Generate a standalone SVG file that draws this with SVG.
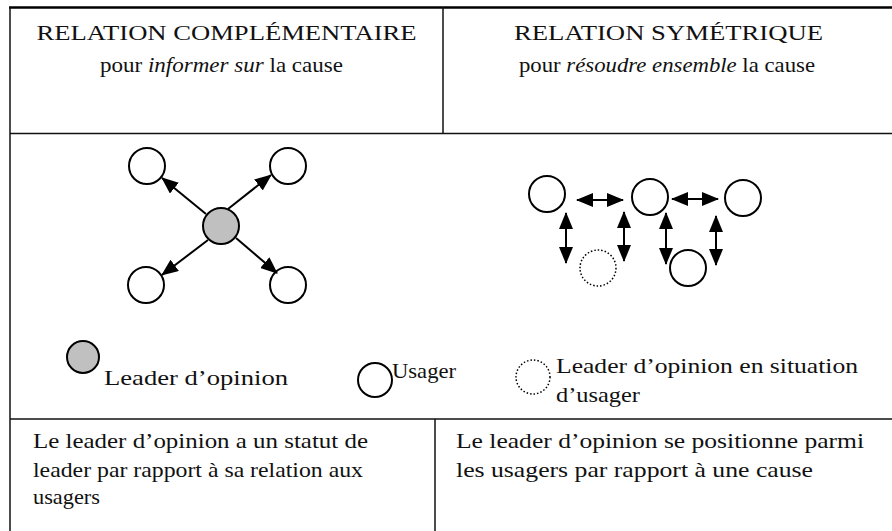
<svg xmlns="http://www.w3.org/2000/svg" width="892" height="531" viewBox="0 0 892 531" font-family="'Liberation Serif', 'DejaVu Serif', serif">
  <style>
    text { font-family: "Liberation Serif", "DejaVu Serif", serif; fill: #111; }
    .hd { font-size: 22px; }
    .sub { font-size: 21px; }
    .txt { font-size: 21px; }
    .rule { stroke: #111; stroke-width: 1.5; fill: none; }
    .node { fill: #fff; stroke: #000; stroke-width: 2; }
    .leader { fill: #c0c0c0; stroke: #000; stroke-width: 2; }
    .dotted { fill: #fff; stroke: #000; stroke-width: 1.5; stroke-dasharray: 1.5 2; }
    .link { stroke: #000; stroke-width: 2; fill: none; }
  </style>
  <defs>
    <marker id="head" markerUnits="userSpaceOnUse" viewBox="0 0 17 14" markerWidth="17" markerHeight="14" refX="16" refY="7" orient="auto-start-reverse">
      <path d="M0,0 L17,7 L0,14 z" fill="#000"/>
    </marker>
  </defs>

  <rect width="892" height="531" fill="#fff"/>

  <!-- table rules -->
  <g id="table">
    <line x1="9" y1="7.5" x2="892" y2="7.5" stroke="#000" stroke-width="2.5"/>
    <line class="rule" x1="10" y1="7" x2="10" y2="531"/>
    <line class="rule" x1="443" y1="7" x2="443" y2="133.5"/>
    <line class="rule" x1="10" y1="133.5" x2="892" y2="133.5"/>
    <line class="rule" x1="10" y1="419" x2="892" y2="419"/>
    <line class="rule" x1="435" y1="419" x2="435" y2="531"/>
  </g>

  <!-- column headings -->
  <g id="head-left">
    <text class="hd" x="226.5" y="40" text-anchor="middle" textLength="380" lengthAdjust="spacingAndGlyphs">RELATION COMPLÉMENTAIRE</text>
    <text class="sub" x="221.5" y="72" text-anchor="middle" textLength="243" lengthAdjust="spacingAndGlyphs">pour <tspan font-style="italic">informer sur</tspan> la cause</text>
  </g>
  <g id="head-right">
    <text class="hd" x="668.5" y="40" text-anchor="middle" textLength="309" lengthAdjust="spacingAndGlyphs">RELATION SYMÉTRIQUE</text>
    <text class="sub" x="667" y="72" text-anchor="middle" textLength="296" lengthAdjust="spacingAndGlyphs">pour <tspan font-style="italic">résoudre ensemble</tspan> la cause</text>
  </g>

  <!-- complementary relation: leader in the middle -->
  <g id="leader-centre"><circle class="leader" cx="221" cy="226" r="18"/></g>
  <g id="user-tl"><circle class="node" cx="147" cy="166" r="18"/></g>
  <g id="user-tr"><circle class="node" cx="288" cy="166" r="18"/></g>
  <g id="user-bl"><circle class="node" cx="146" cy="285" r="18"/></g>
  <g id="user-br"><circle class="node" cx="288" cy="285" r="18"/></g>

  <!-- symmetric relation: leader among users -->
  <g id="sym-a"><circle class="node" cx="547" cy="194" r="18"/></g>
  <g id="sym-b"><circle class="node" cx="650" cy="197" r="18"/></g>
  <g id="sym-c"><circle class="node" cx="743" cy="198" r="18"/></g>
  <g id="sym-leader"><circle class="dotted" cx="598" cy="268" r="18"/></g>
  <g id="sym-e"><circle class="node" cx="688" cy="268" r="18"/></g>

  <g id="connectors">
    <line class="link" x1="206" y1="214" x2="162" y2="178" marker-end="url(#head)"/>
    <line class="link" x1="228" y1="209" x2="271" y2="175" marker-end="url(#head)"/>
    <line class="link" x1="208" y1="240" x2="162" y2="275" marker-end="url(#head)"/>
    <line class="link" x1="236" y1="238" x2="277" y2="273" marker-end="url(#head)"/>

    <line class="link" x1="577" y1="200" x2="623" y2="200" marker-start="url(#head)" marker-end="url(#head)"/>
    <line class="link" x1="672" y1="199" x2="718" y2="199" marker-start="url(#head)" marker-end="url(#head)"/>
    <line class="link" x1="566" y1="213" x2="566" y2="263" marker-start="url(#head)" marker-end="url(#head)"/>
    <line class="link" x1="624" y1="212" x2="624" y2="261" marker-start="url(#head)" marker-end="url(#head)"/>
    <line class="link" x1="666" y1="213" x2="666" y2="264" marker-start="url(#head)" marker-end="url(#head)"/>
    <line class="link" x1="716" y1="216" x2="716" y2="265" marker-start="url(#head)" marker-end="url(#head)"/>
  </g>

  <!-- legend -->
  <g id="legend-leader">
    <circle class="leader" cx="83" cy="357" r="16"/>
    <text class="txt" x="104" y="385" textLength="184" lengthAdjust="spacingAndGlyphs">Leader d’opinion</text>
  </g>
  <g id="legend-user">
    <circle class="node" cx="375" cy="380" r="17"/>
    <text class="txt" x="392" y="378" textLength="64" lengthAdjust="spacingAndGlyphs">Usager</text>
  </g>
  <g id="legend-leader-user">
    <circle class="dotted" cx="533" cy="377" r="17"/>
    <text class="txt" x="556" y="373" textLength="302" lengthAdjust="spacingAndGlyphs">Leader d’opinion en situation</text>
    <text class="txt" x="556" y="402" textLength="84" lengthAdjust="spacingAndGlyphs">d’usager</text>
  </g>

  <!-- bottom descriptions -->
  <g id="desc-left">
    <text class="txt" x="33" y="448" textLength="335" lengthAdjust="spacingAndGlyphs">Le leader d’opinion a un statut de</text>
    <text class="txt" x="33" y="477" textLength="330" lengthAdjust="spacingAndGlyphs">leader par rapport à sa relation aux</text>
    <text class="txt" x="33" y="504" textLength="67" lengthAdjust="spacingAndGlyphs">usagers</text>
  </g>
  <g id="desc-right">
    <text class="txt" x="456" y="448" textLength="408" lengthAdjust="spacingAndGlyphs">Le leader d’opinion se positionne parmi</text>
    <text class="txt" x="456" y="477" textLength="357" lengthAdjust="spacingAndGlyphs">les usagers par rapport à une cause</text>
  </g>
</svg>
